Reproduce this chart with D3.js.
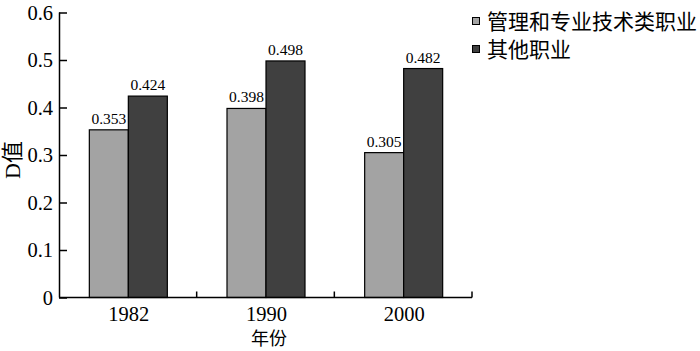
<!DOCTYPE html>
<html><head><meta charset="utf-8">
<script src="https://cdn.jsdelivr.net/npm/d3@7"></script>
<style>
html,body{margin:0;padding:0;background:#fff;}
svg{display:block;}
</style></head>
<body>
<svg id="chart" width="700" height="351"></svg>
<script>
const years = ["1982", "1990", "2000"];
const seriesNames = ["管理和专业技术类职业", "其他职业"];
const mgmtValues = [0.353, 0.398, 0.305];
const otherValues = [0.424, 0.498, 0.482];
const yTicks = [0, 0.1, 0.2, 0.3, 0.4, 0.5, 0.6];
const colors = ["#a3a3a3", "#404040"];

(function () {
const svg = d3.select("#chart");
const serif = "'Liberation Serif','Times New Roman',serif";
const cjk = "'Noto Sans CJK SC',sans-serif";
const mLeft = 59, mRight = 472, mTop = 12.5, mBottom = 297.5;

const x = d3.scaleBand().domain(years).range([mLeft, mRight]).paddingInner(0).paddingOuter(0);
const y = d3.scaleLinear().domain([0, 0.6]).range([mBottom, mTop]);
const x1 = d3.scaleBand().domain([0, 1]).range([0, 78]);

const data = years.map((yr, i) => ({year: yr, vals: [mgmtValues[i], otherValues[i]]}));

// bars
const g = svg.append("g");
data.forEach(d => {
  const gx = x(d.year) + (x.bandwidth() - 78) / 2;
  d.vals.forEach((v, k) => {
    g.append("rect")
      .attr("x", gx + x1(k) + 0.5)
      .attr("y", y(v))
      .attr("width", x1.bandwidth())
      .attr("height", y(0) - y(v))
      .attr("fill", colors[k])
      .attr("stroke", "#000")
      .attr("stroke-width", 1.2);
    g.append("text")
      .attr("x", gx + x1(k) + x1.bandwidth() / 2 + 0.5)
      .attr("y", y(v) - 6)
      .attr("text-anchor", "middle")
      .attr("font-family", serif)
      .attr("font-size", 15.5)
      .attr("fill", "#000")
      .text(v.toFixed(3));
  });
});

// y axis
const yAxis = d3.axisRight(y).tickValues(yTicks).tickSize(8).tickFormat("");
const ya = svg.append("g").attr("transform", `translate(${mLeft},0)`).call(yAxis);
ya.select(".domain").attr("d", `M0.5,${mTop}V${mBottom}`).attr("stroke-width", 1.5);
ya.selectAll(".tick line").attr("stroke-width", 1.5).attr("x1", 0);
svg.append("g").selectAll("text").data(yTicks).join("text")
  .attr("x", 53).attr("y", d => y(d)).attr("dy", "0.35em")
  .attr("text-anchor", "end")
  .attr("font-family", serif).attr("font-size", 20.5)
  .text(d => d === 0 ? "0" : d3.format(".1f")(d));

// x axis
svg.append("line").attr("x1", mLeft).attr("x2", mRight).attr("y1", mBottom).attr("y2", mBottom)
  .attr("stroke", "#000").attr("stroke-width", 1.5);
const bounds = years.map(yr => x(yr) + x.bandwidth());
svg.append("g").selectAll("line").data(bounds).join("line")
  .attr("x1", d => d).attr("x2", d => d).attr("y1", mBottom).attr("y2", mBottom - 6)
  .attr("stroke", "#000").attr("stroke-width", 1.5);
svg.append("g").selectAll("text").data(years).join("text")
  .attr("x", d => x(d) + x.bandwidth() / 2 + 1)
  .attr("y", 320.5)
  .attr("text-anchor", "middle")
  .attr("font-family", serif).attr("font-size", 20.5)
  .text(d => d);

// axis titles
svg.append("text").attr("x", 269).attr("y", 345.3).attr("text-anchor", "middle")
  .attr("font-family", cjk).attr("font-size", 18).text("年份");
svg.append("text").attr("transform", "translate(20,160) rotate(-90)")
  .attr("text-anchor", "middle")
  .attr("font-family", "'Liberation Serif','Noto Sans CJK SC',serif").attr("font-size", 22)
  .text("D值");

// legend
const lg = svg.append("g");
seriesNames.forEach((name, k) => {
  const cy = 21 + k * 28;
  lg.append("rect").attr("x", 472.5).attr("y", cy - 3.5).attr("width", 7).attr("height", 7)
    .attr("fill", colors[k]).attr("stroke", "#000").attr("stroke-width", 1);
  lg.append("text").attr("x", 487).attr("y", cy).attr("dy", "0.36em")
    .attr("font-family", cjk).attr("font-size", 21).text(name);
});
})();
</script>
</body></html>
